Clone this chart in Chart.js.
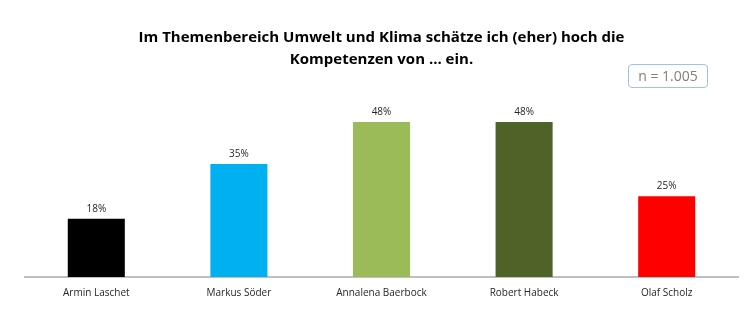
<!DOCTYPE html>
<html>
<head>
<meta charset="utf-8">
<script src="https://cdn.jsdelivr.net/npm/chart.js@4"></script>
<style>
    body { margin: 0; background: #fff; }
    #wrap { position: relative; width: 749px; height: 325px; }
    #n-box {
        position: absolute; left: 628px; top: 64px; width: 80px; height: 24px;
        border: 1px solid #9dc3e6; border-radius: 4px; box-sizing: border-box;
        font: 14px "Open Sans", sans-serif; color: #7f7f7f; text-align: center; line-height: 22px;
    }
</style>
</head>
<body>
<div id="wrap">
    <canvas id="kompChart" width="749" height="325"></canvas>
    <div id="n-box">n = 1.005</div>
</div>
<script>
// Kompetenz Umwelt und Klima
const candidates = ['Armin Laschet', 'Markus Söder', 'Annalena Baerbock', 'Robert Habeck', 'Olaf Scholz'];
const shares = [18, 35, 48, 48, 25];
const barColors = ['#000000', '#00b0f0', '#9bbb59', '#4f6228', '#ff0000'];

// percent labels above each bar
const valueLabels = {
    id: 'valueLabels',
    afterDatasetsDraw(chart) {
        const ctx = chart.ctx;
        const meta = chart.getDatasetMeta(0);
        ctx.save();
        ctx.font = '10px "Open Sans", sans-serif';
        ctx.fillStyle = '#262626';
        ctx.textAlign = 'center';
        ctx.textBaseline = 'middle';
        meta.data.forEach((bar, i) => {
            ctx.fillText(shares[i] + '%', bar.x, bar.y - 10);
        });
        ctx.restore();
    }
};

const ctx = document.getElementById('kompChart').getContext('2d');
new Chart(ctx, {
    type: 'bar',
    data: {
        labels: candidates,
        datasets: [{
            data: shares,
            backgroundColor: barColors,
            borderWidth: 0,
            categoryPercentage: 1,
            barPercentage: 0.4
        }]
    },
    options: {
        responsive: false,
        animation: false,
        layout: { padding: { left: 25, right: 11, bottom: 16 } },
        plugins: {
            legend: { display: false },
            tooltip: { enabled: false },
            title: {
                display: true,
                text: ['Im Themenbereich Umwelt und Klima schätze ich (eher) hoch die', 'Kompetenzen von ... ein.'],
                color: '#000',
                font: { family: '"Open Sans", sans-serif', size: 15, weight: 'bold', lineHeight: 1.45 },
                padding: { top: 27, bottom: 45 }
            }
        },
        scales: {
            x: {
                grid: { display: false, drawTicks: false },
                border: { display: true, color: '#bfbfbf', width: 2 },
                ticks: { color: '#262626', font: { family: '"Open Sans", sans-serif', size: 10 }, padding: 10 }
            },
            y: {
                display: false,
                min: 0,
                max: 50
            }
        }
    },
    plugins: [valueLabels]
});
</script>
</body>
</html>
